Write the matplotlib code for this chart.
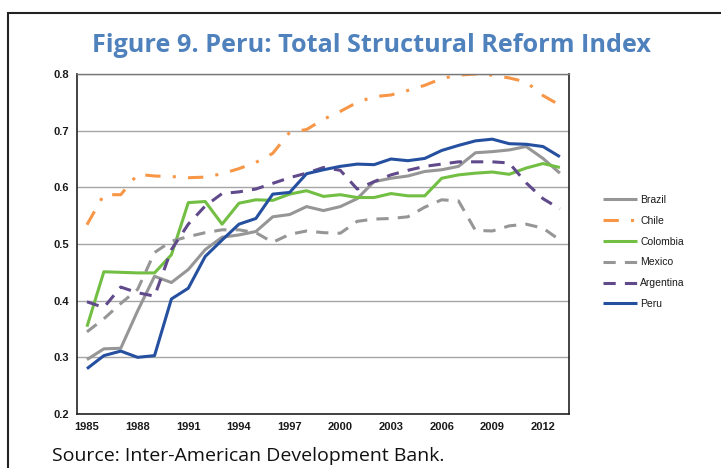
import matplotlib
matplotlib.use("Agg")
import matplotlib.pyplot as plt
from matplotlib.patches import Rectangle

years = list(range(1985, 2014))

brazil = [0.296, 0.315, 0.316, 0.382, 0.443, 0.432, 0.455, 0.490, 0.512, 0.516,
          0.522, 0.548, 0.552, 0.566, 0.559, 0.566, 0.580, 0.610, 0.616, 0.620,
          0.628, 0.631, 0.637, 0.661, 0.663, 0.666, 0.672, 0.651, 0.625]
chile = [0.534, 0.587, 0.587, 0.623, 0.620, 0.619, 0.617, 0.618, 0.624, 0.633,
         0.644, 0.660, 0.697, 0.702, 0.720, 0.734, 0.750, 0.760, 0.763, 0.771,
         0.780, 0.792, 0.798, 0.800, 0.798, 0.793, 0.786, 0.762, 0.745]
colombia = [0.354, 0.451, 0.450, 0.449, 0.449, 0.481, 0.573, 0.575, 0.535, 0.572,
            0.578, 0.577, 0.588, 0.594, 0.584, 0.587, 0.582, 0.582, 0.589, 0.585,
            0.585, 0.616, 0.622, 0.625, 0.627, 0.623, 0.634, 0.642, 0.635]
mexico = [0.345, 0.368, 0.395, 0.420, 0.485, 0.505, 0.513, 0.520, 0.525, 0.525,
          0.520, 0.503, 0.517, 0.523, 0.520, 0.519, 0.540, 0.544, 0.545, 0.548,
          0.565, 0.578, 0.576, 0.524, 0.523, 0.532, 0.535, 0.528, 0.507]
argentina = [0.398, 0.388, 0.424, 0.414, 0.408, 0.490, 0.535, 0.567, 0.589, 0.592,
             0.597, 0.607, 0.617, 0.625, 0.635, 0.630, 0.597, 0.610, 0.622, 0.630,
             0.637, 0.641, 0.645, 0.645, 0.645, 0.643, 0.608, 0.580, 0.562]
peru = [0.280, 0.303, 0.311, 0.300, 0.303, 0.403, 0.422, 0.478, 0.507, 0.535,
        0.545, 0.588, 0.591, 0.624, 0.631, 0.637, 0.641, 0.640, 0.650, 0.647,
        0.651, 0.665, 0.674, 0.682, 0.685, 0.677, 0.676, 0.672, 0.654]

series = [
    ("Brazil", brazil, "#969696", "-"),
    ("Chile", chile, "#F79646", (0, (5, 4, 1, 4))),
    ("Colombia", colombia, "#72BF44", "-"),
    ("Mexico", mexico, "#969696", (0, (4, 3))),
    ("Argentina", argentina, "#604A8B", (0, (4, 3))),
    ("Peru", peru, "#2550A0", "-"),
]

xticks = list(range(1985, 2013, 3))
yticks = [0.2, 0.3, 0.4, 0.5, 0.6, 0.7, 0.8]

fig = plt.figure(figsize=(7.21, 4.68), dpi=100)
fig.patch.set_facecolor("white")

# outer frame of the exhibit
fig.patches.append(Rectangle((8 / 721, -0.2), 1.2, 1.2 - 13 / 468,
                             transform=fig.transFigure, fill=False,
                             edgecolor="#222222", linewidth=1.5))

ax = fig.add_axes([77 / 721, 1 - 414 / 468, (569 - 77) / 721, (414 - 74) / 468])

for name, vals, color, ls in series:
    ax.plot(years, vals, color=color, linestyle=ls, linewidth=2.2,
            label=name, solid_capstyle="butt", dash_capstyle="butt")

ax.set_xlim(1984.41, 2013.54)
ax.set_ylim(0.2, 0.8)
ax.set_xticks(xticks)
ax.set_yticks(yticks)
ax.set_yticklabels(["%.1f" % v for v in yticks])
ax.tick_params(length=0, labelsize=8, colors="#1a1a1a", pad=6)
for lab in ax.get_xticklabels() + ax.get_yticklabels():
    lab.set_fontweight("bold")
    lab.set_fontfamily("Liberation Sans")
ax.grid(axis="y", color="#a6a6a6", linewidth=1.0)
ax.set_axisbelow(True)
for side in ["left", "bottom", "right"]:
    ax.spines[side].set_color("#222222")
    ax.spines[side].set_linewidth(1.2)
ax.spines["top"].set_color("#777777")
ax.spines["top"].set_linewidth(1.0)

leg = ax.legend(loc="upper left", bbox_to_anchor=(1.05, 0.672), frameon=False,
                handlelength=3.3, handletextpad=0.3, labelspacing=1.04,
                prop={"family": "Liberation Sans", "size": 7.5})
for t in leg.get_texts():
    t.set_color("#1a1a1a")

fig.text(92 / 721, 1 - 52 / 468, "Figure 9. Peru: Total Structural Reform Index",
         ha="left", va="baseline", color="#4F81BD", fontsize=18.2,
         fontweight="bold", family="Open Sans")
fig.text(52 / 721, 1 - 461 / 468, "Source: Inter-American Development Bank.",
         ha="left", va="baseline", color="#111111", fontsize=14, family="Open Sans")

fig.savefig("out.png", dpi=100)
